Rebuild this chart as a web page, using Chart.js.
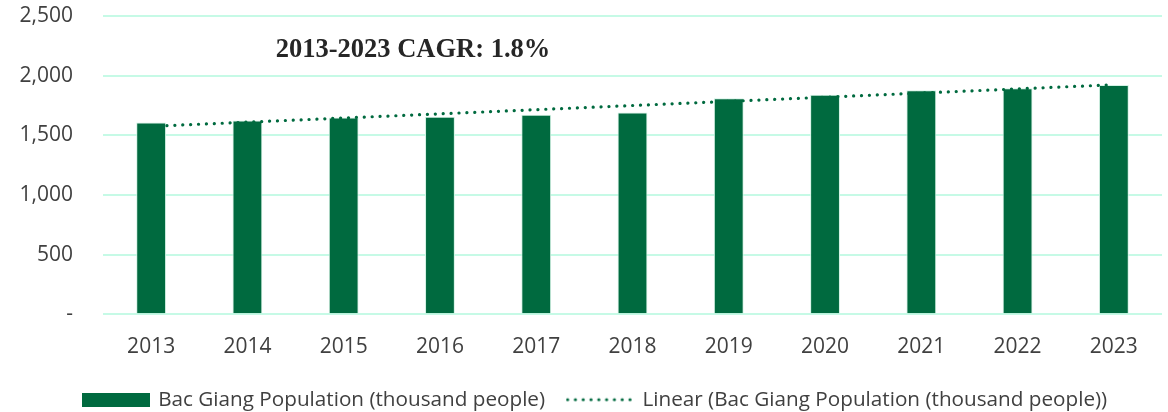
<!DOCTYPE html>
<html>
<head>
<meta charset="utf-8">
<script src="https://cdn.jsdelivr.net/npm/chart.js@4.4.1/dist/chart.umd.min.js"></script>
<style>
  html, body { margin: 0; padding: 0; background: #ffffff; }
  #wrap { width: 1168px; height: 412px; }
</style>
</head>
<body>
<div id="wrap"><canvas id="c" width="1168" height="412"></canvas></div>
<script>
// Bac Giang population by year (thousand people)
const years = ['2013', '2014', '2015', '2016', '2017', '2018', '2019', '2020', '2021', '2022', '2023'];
const population = [1608, 1625, 1650, 1656, 1673, 1692, 1810, 1841, 1877, 1894, 1922];
const yTicks = [0, 500, 1000, 1500, 2000, 2500];
const seriesLabel = 'Bac Giang Population (thousand people)';
const trendLabel = 'Linear (Bac Giang Population (thousand people))';
const cagrText = '2013-2023 CAGR: 1.8%';

const GREEN = '#006a3f';
const GRID = '#c6fae6';
const TEXT = '#404040';
const FONT = '"Open Sans", "Noto Sans", sans-serif';

// Least-squares linear trend over the yearly values
function linearTrend(values) {
  const n = values.length;
  const mx = (n - 1) / 2;
  const my = values.reduce((a, b) => a + b, 0) / n;
  let sxy = 0, sxx = 0;
  values.forEach((v, i) => { sxy += (i - mx) * (v - my); sxx += (i - mx) * (i - mx); });
  const slope = sxy / sxx;
  return values.map((_, i) => my + slope * (i - mx));
}
const trend = linearTrend(population);

// Legend swatches
function barSwatch() {
  const c = document.createElement('canvas');
  c.width = 68; c.height = 14;
  const g = c.getContext('2d');
  g.fillStyle = GREEN;
  g.fillRect(0, 0, 68, 14);
  return c;
}
function dotSwatch() {
  const c = document.createElement('canvas');
  c.width = 70; c.height = 14;
  const g = c.getContext('2d');
  g.fillStyle = GREEN;
  for (let x = 2; x < 70; x += 7.8) {
    g.beginPath();
    g.arc(x, 7, 1.6, 0, Math.PI * 2);
    g.fill();
  }
  return c;
}
const swatches = [barSwatch(), dotSwatch()];

// Annotation text inside the plot area
const cagrNote = {
  id: 'cagrNote',
  afterDatasetsDraw(chart) {
    const { ctx, chartArea } = chart;
    ctx.save();
    ctx.font = 'bold 26.5px "Liberation Serif", "Times New Roman", serif';
    ctx.fillStyle = '#262626';
    ctx.textAlign = 'center';
    ctx.textBaseline = 'alphabetic';
    ctx.fillText(cagrText, chartArea.left + 310, chartArea.top + 41);
    ctx.restore();
  }
};

// Nudge the legend row a little to the right of the canvas centre
const legendNudge = {
  id: 'legendNudge',
  afterLayout(chart) {
    if (chart.legend) {
      chart.legend.left += 15;
      chart.legend.right += 15;
    }
  }
};

new Chart(document.getElementById('c'), {
  type: 'bar',
  data: {
    labels: years,
    datasets: [
      {
        type: 'bar',
        label: seriesLabel,
        data: population,
        backgroundColor: GREEN,
        borderColor: '#d2f2e4',
        borderWidth: 1,
        categoryPercentage: 1,
        barPercentage: 0.31,
        order: 1
      },
      {
        type: 'line',
        label: trendLabel,
        data: trend,
        borderColor: GREEN,
        backgroundColor: GREEN,
        borderWidth: 3.2,
        borderDash: [0.1, 7.8],
        borderCapStyle: 'round',
        pointRadius: 0,
        fill: false,
        tension: 0,
        order: 0
      }
    ]
  },
  options: {
    responsive: false,
    animation: false,
    layout: { autoPadding: false, padding: { top: 16, right: 6, left: 0, bottom: -8 } },
    plugins: {
      tooltip: { enabled: false },
      legend: {
        position: 'bottom',
        labels: {
          usePointStyle: true,
          pointStyleWidth: 63,
          boxHeight: 14,
          padding: 24,
          color: TEXT,
          font: { family: FONT, size: 20.7 },
          sort: (a, b) => a.datasetIndex - b.datasetIndex,
          generateLabels(chart) {
            const items = Chart.defaults.plugins.legend.labels.generateLabels(chart);
            items.forEach(it => { it.pointStyle = swatches[it.datasetIndex]; });
            return items;
          }
        }
      }
    },
    scales: {
      x: {
        grid: { display: false },
        border: { display: false },
        afterFit(scale) { scale.height = 51; },
        ticks: { color: TEXT, font: { family: FONT, size: 21 }, padding: 12 }
      },
      y: {
        min: 0,
        max: 2500,
        afterBuildTicks(scale) { scale.ticks = yTicks.map(v => ({ value: v })); },
        afterFit(scale) {
          scale.width = 103;
          scale.paddingTop = 0;
          scale.paddingBottom = 0;
        },
        grid: { color: GRID, lineWidth: 2, drawTicks: false },
        border: { display: false },
        ticks: {
          color: TEXT,
          font: { family: FONT, size: 21 },
          padding: 30,
          callback: v => (v === 0 ? '-' : v.toLocaleString('en-US'))
        }
      }
    }
  },
  plugins: [cagrNote, legendNudge]
});
</script>
</body>
</html>
